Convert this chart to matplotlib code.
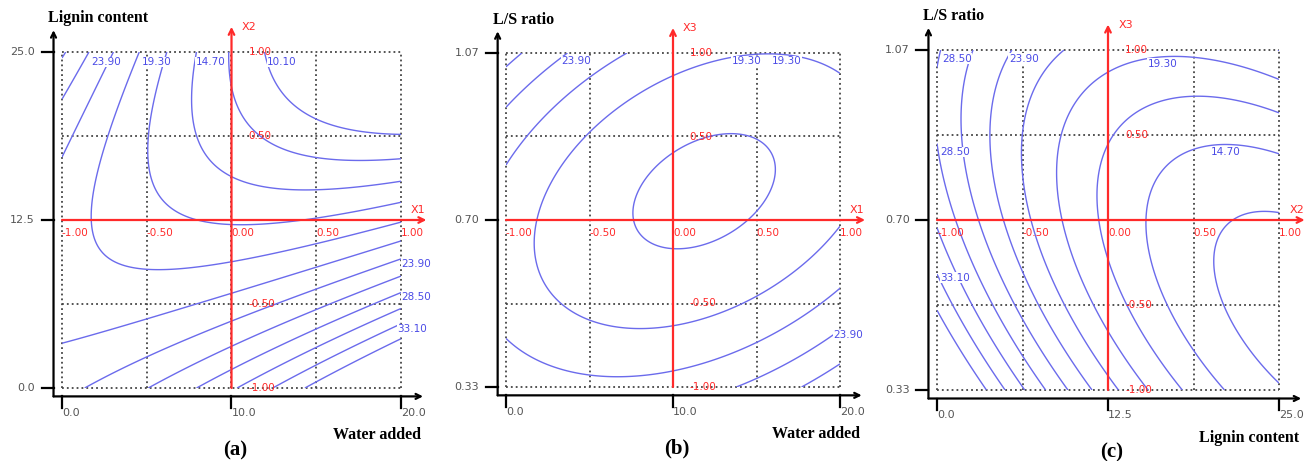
import matplotlib.pyplot as plt
import numpy as np

# contour points, in coded units (-1..1), keyed by contour level
A_POINTS = {
    10.1: [(0.21, 1.0), (0.30, 0.73), (0.48, 0.60), (0.70, 0.52), (1.0, 0.51)],
    12.4: [(0.0, 1.0), (0.01, 0.79), (0.05, 0.65), (0.18, 0.49), (0.40, 0.40), (0.60, 0.36), (1.0, 0.36)],
    14.7: [(-0.22, 1.0), (-0.23, 0.65), (-0.17, 0.43), (0.0, 0.26), (0.27, 0.18), (0.50, 0.17), (1.0, 0.24)],
    17.0: [(-0.41, 1.0), (-0.49, 0.48), (-0.44, 0.24), (-0.27, 0.04), (0.0, -0.04), (0.36, -0.01), (1.0, 0.11)],
    19.3: [(-0.56, 1.0), (-0.72, 0.61), (-0.81, 0.32), (-0.82, 0.02), (-0.78, -0.18), (-0.62, -0.28),
           (-0.49, -0.31), (-0.19, -0.29), (0.21, -0.20), (0.60, -0.10), (1.0, 0.0)],
    21.6: [(-0.73, 0.90), (-0.88, 0.65), (-1.0, 0.36), (-1.0, -0.73), (-0.50, -0.61), (0.0, -0.45),
           (0.50, -0.26), (1.0, -0.12)],
    23.9: [(-0.84, 0.96), (-1.0, 0.71), (-0.86, -1.0), (-0.50, -0.79), (0.0, -0.58), (0.50, -0.40), (1.0, -0.25)],
    26.2: [(-0.98, 0.98), (-0.49, -1.0), (0.0, -0.77), (0.50, -0.54), (1.0, -0.33)],
    28.5: [(-0.21, -1.0), (0.0, -0.89), (0.50, -0.64), (1.0, -0.43)],
    30.8: [(0.03, -1.0), (0.50, -0.76), (1.0, -0.54)],
    33.1: [(0.24, -1.0), (1.0, -0.62)],
    35.4: [(0.43, -1.0), (1.0, -0.71)],
}
B_POINTS = {
    17.0: [(0.35, 0.51), (0.60, 0.31), (0.43, 0.0), (0.03, -0.16), (-0.23, 0.05), (-0.15, 0.20), (0.0, 0.41)],
    19.3: [(-0.83, -0.18), (-0.82, 0.0), (-0.73, 0.28), (-0.59, 0.52), (-0.29, 0.74), (0.0, 0.87),
           (0.35, 0.97), (0.72, 0.99), (0.99, 0.89), (-0.69, -0.44), (-0.49, -0.58), (-0.19, -0.65),
           (0.21, -0.60), (0.51, -0.45), (0.81, -0.24), (0.99, -0.04)],
    21.6: [(-0.99, 0.36), (-0.59, 0.72), (-0.29, 0.99), (-0.99, -0.73), (-0.49, -0.93), (0.01, -0.89),
           (0.51, -0.74), (0.99, -0.40)],
    23.9: [(-0.99, 0.68), (-0.79, 0.84), (-0.67, 0.97), (0.39, -1.0), (0.71, -0.84), (0.99, -0.68)],
    26.2: [(-0.99, 0.93), (-0.93, 0.99), (0.78, -1.0), (0.99, -0.86)],
}
C_POINTS = {
    12.4: [(1.0, 0.04), (0.75, -0.02), (0.65, -0.19), (0.67, -0.47), (0.79, -0.78), (1.0, -0.95)],
    14.7: [(1.0, 0.40), (0.75, 0.43), (0.50, 0.39), (0.30, 0.23), (0.26, 0.02), (0.28, -0.27),
           (0.40, -0.57), (0.56, -0.78), (0.68, -0.99)],
    17.0: [(1.0, 0.64), (0.50, 0.72), (0.17, 0.64), (0.01, 0.47), (-0.05, 0.21), (-0.03, -0.08),
           (0.05, -0.37), (0.17, -0.62), (0.30, -0.86), (0.42, -0.99)],
    19.3: [(1.0, 0.84), (0.46, 0.97), (0.01, 0.87), (-0.18, 0.70), (-0.27, 0.41), (-0.28, 0.02),
           (-0.22, -0.27), (-0.07, -0.57), (0.09, -0.86), (0.23, -0.99)],
    21.6: [(-0.29, 1.0), (-0.42, 0.74), (-0.47, 0.41), (-0.46, 0.0), (-0.36, -0.37), (-0.18, -0.72), (0.07, -0.99)],
    23.9: [(-0.59, 1.0), (-0.65, 0.70), (-0.67, 0.41), (-0.60, 0.0), (-0.48, -0.37), (-0.30, -0.70), (-0.08, -0.99)],
    26.2: [(-0.81, 1.0), (-0.85, 0.70), (-0.84, 0.41), (-0.75, 0.0), (-0.61, -0.37), (-0.44, -0.70), (-0.24, -0.99)],
    28.5: [(-0.99, 0.99), (-0.99, 0.37), (-0.89, 0.0), (-0.75, -0.37), (-0.57, -0.70), (-0.36, -0.99)],
    30.8: [(-0.99, -0.06), (-0.87, -0.37), (-0.69, -0.70), (-0.47, -0.99)],
    33.1: [(-0.99, -0.35), (-0.81, -0.66), (-0.59, -0.99)],
    35.4: [(-0.99, -0.55), (-0.71, -0.99)],
}

# printed contour labels (value, coded x, coded y)
A_LABELS = [("23.90", -0.83, 0.94), ("19.30", -0.53, 0.94), ("14.70", -0.21, 0.94), ("10.10", 0.21, 0.94),
            ("23.90", 1.0, -0.26), ("28.50", 1.0, -0.46), ("33.10", 0.98, -0.65)]
B_LABELS = [("23.90", -0.67, 0.95), ("19.30", 0.35, 0.95), ("19.30", 0.59, 0.95), ("23.90", 0.96, -0.69)]
C_LABELS = [("28.50", -0.97, 0.95), ("23.90", -0.58, 0.95), ("19.30", 0.23, 0.92), ("14.70", 0.60, 0.40),
            ("28.50", -0.98, 0.40), ("33.10", -0.98, -0.34)]

WATER_TICKS = ["0.0", "10.0", "20.0"]
LIGNIN_TICKS = ["0.0", "12.5", "25.0"]
LS_TICKS = ["0.33", "0.70", "1.07"]
CODED_H = ["-1.00", "-0.50", "0.00", "0.50", "1.00"]
CODED_V = ["-1.00", "-0.50", "0.50", "1.00"]

BLUE = "#6b6bec"
BLUE_TXT = "#4a4ae6"
RED = "#ff2a2a"
GREY = "#555555"
SERIF = "Liberation Serif"


def fit_surface(points):
    """Least squares quadratic through the read contour points."""
    rows, z = [], []
    for level, pts in points.items():
        for x, y in pts:
            rows.append([1, x, y, x * x, y * y, x * y])
            z.append(level)
    coef, *_ = np.linalg.lstsq(np.array(rows), np.array(z), rcond=None)
    return coef


def arrow(ax, start, end, color, lw, size):
    ax.annotate("", xy=end, xytext=start, annotation_clip=False, zorder=5,
                arrowprops=dict(arrowstyle="->", color=color, lw=lw, mutation_scale=size,
                                shrinkA=0, shrinkB=0))


def draw_panel(rect, points, labels, xticks, yticks, xname, yname, hname, vname, tag):
    ax = fig.add_axes(rect)
    ax.set_xlim(-1, 1)
    ax.set_ylim(-1, 1)
    ax.axis("off")

    # dotted frame and grid
    for v in [-1, -0.5, 0, 0.5, 1]:
        ax.plot([v, v], [-1, 1], color="#444444", lw=1.3, ls=(0, (1, 1.7)), clip_on=False, zorder=1)
        ax.plot([-1, 1], [v, v], color="#444444", lw=1.3, ls=(0, (1, 1.7)), clip_on=False, zorder=1)

    coef = fit_surface(points)
    g = np.linspace(-1, 1, 301)
    X, Y = np.meshgrid(g, g)
    Z = coef[0] + coef[1] * X + coef[2] * Y + coef[3] * X ** 2 + coef[4] * Y ** 2 + coef[5] * X * Y
    ax.contour(X, Y, Z, levels=sorted(points), colors=BLUE, linewidths=1.0, zorder=2)

    for txt, x, y in labels:
        ax.text(x, y, txt, color=BLUE_TXT, fontsize=7.5, ha="left", va="center", zorder=4,
                bbox=dict(facecolor="white", edgecolor="none", pad=0.3))

    # red coded axes
    arrow(ax, (-1, 0), (1.15, 0), RED, 1.6, 10)
    arrow(ax, (0, -1), (0, 1.15), RED, 1.6, 10)
    ax.text(1.06, 0.03, hname, color=RED, fontsize=8, ha="left", va="bottom")
    ax.text(0.06, 1.12, vname, color=RED, fontsize=8, ha="left", va="bottom")
    for txt, v in zip(CODED_H, [-1, -0.5, 0, 0.5, 1]):
        ax.text(v, -0.075, txt, color=RED, fontsize=7.5, ha="left", va="center", zorder=5)
    for txt, v in zip(CODED_V, [-1, -0.5, 0.5, 1]):
        ax.text(0.1, v, txt, color=RED, fontsize=7.5, ha="left", va="center", zorder=5)

    # black frame axes with arrows
    arrow(ax, (-1.05, -1.05), (-1.05, 1.13), "black", 1.6, 9)
    arrow(ax, (-1.05, -1.05), (1.13, -1.05), "black", 1.6, 9)
    for txt, v in zip(yticks, [-1, 0, 1]):
        ax.plot([-1.12, -1.05], [v, v], color="black", lw=1.6, clip_on=False)
        ax.text(-1.16, v, txt, color=GREY, fontsize=8, ha="right", va="center")
    for txt, v in zip(xticks, [-1, 0, 1]):
        ax.plot([v, v], [-1.05, -1.12], color="black", lw=1.6, clip_on=False)
        ax.text(v, -1.15, txt, color=GREY, fontsize=8, ha="left", va="center")

    ax.text(-1.08, 1.2, yname, family=SERIF, fontweight="bold", fontsize=11.5, ha="left", va="center")
    ax.text(1.12, -1.28, xname, family=SERIF, fontweight="bold", fontsize=11.5, ha="right", va="center")
    ax.text(0.02, -1.37, tag, family=SERIF, fontweight="bold", fontsize=15, ha="center", va="center")


fig = plt.figure(figsize=(13.09, 4.61), dpi=100)

draw_panel([62 / 1309, 1 - 388 / 461, 339 / 1309, 336 / 461], A_POINTS, A_LABELS,
           WATER_TICKS, ["0.0", "12.5", "25.0"], "Water added", "Lignin content", "X1", "X2", "(a)")
draw_panel([506 / 1309, 1 - 387 / 461, 334 / 1309, 334 / 461], B_POINTS, B_LABELS,
           WATER_TICKS, LS_TICKS, "Water added", "L/S ratio", "X1", "X3", "(b)")
draw_panel([937 / 1309, 1 - 390 / 461, 342 / 1309, 340 / 461], C_POINTS, C_LABELS,
           LIGNIN_TICKS, LS_TICKS, "Lignin content", "L/S ratio", "X2", "X3", "(c)")

fig.savefig("out.png", dpi=100)
